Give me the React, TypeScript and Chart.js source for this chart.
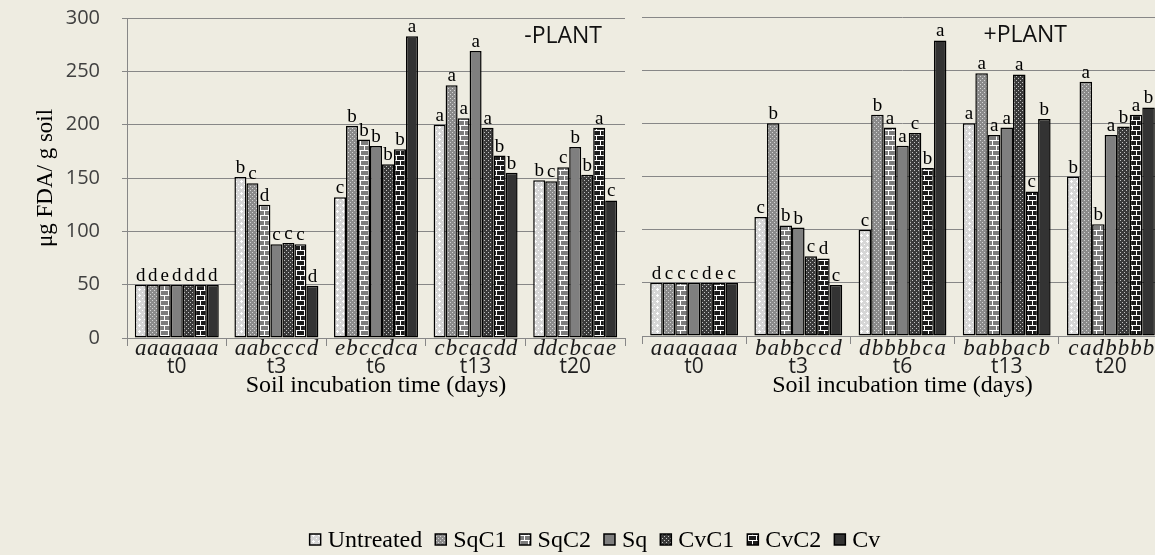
import { useEffect, useRef } from 'react';
import { Chart, registerables } from 'chart.js';

Chart.register(...registerables);

// Categories and series
const timePoints = ['t0', 't3', 't6', 't13', 't20'];
const treatments = ['Untreated', 'SqC1', 'SqC2', 'Sq', 'CvC1', 'CvC2', 'Cv'];

// FDA hydrolysis, µg FDA / g soil — unplanted soil
const minusUntreated = [50, 151, 132, 200, 148];
const minusSqC1 = [50, 145, 199, 237, 147];
const minusSqC2 = [50, 125, 186, 206, 160];
const minusSq = [50, 88, 180, 269, 179];
const minusCvC1 = [50, 89, 163, 197, 153];
const minusCvC2 = [50, 88, 177, 171, 197];
const minusCv = [50, 49, 283, 155, 129];

// FDA hydrolysis, µg FDA / g soil — planted soil
const plusUntreated = [50, 112, 100, 200, 150];
const plusSqC1 = [50, 200, 208, 247, 239];
const plusSqC2 = [50, 104, 196, 189, 105];
const plusSq = [50, 102, 179, 196, 189];
const plusCvC1 = [50, 75, 191, 246, 197];
const plusCvC2 = [50, 73, 158, 136, 208];
const plusCv = [50, 48, 278, 204, 215];

// Significance letters, one character per treatment (in treatment order)
const minusTopLetters = ['ddedddd', 'bcdcccd', 'cbbbbba', 'aaaaabb', 'bccbbac'];
const minusBaseLetters = ['aaaaaaa', 'aabcccd', 'ebccdca', 'cbcacdd', 'ddcbcae'];
const plusTopLetters = ['dcccdec', 'cbbbcdc', 'cbaacba', 'aaaaacb', 'bababab'];
const plusBaseLetters = ['aaaaaaa', 'babbccd', 'dbbbbca', 'babbacb', 'cadbbbb'];

// Axis range
const yMin = 0;
const yMax = 300;
const yStep = 50;

const BG = '#EEECE1';
const GRID = '#878787';
const SANS = '"Open Sans", "DejaVu Sans", sans-serif';
const SERIF = '"Liberation Serif", "DejaVu Serif", serif';

type Px = [number, number];

function tilePattern(w: number, h: number, base: string, ink: string, pixels: Px[]) {
  const c = document.createElement('canvas');
  c.width = w;
  c.height = h;
  const g = c.getContext('2d')!;
  g.fillStyle = base;
  g.fillRect(0, 0, w, h);
  g.fillStyle = ink;
  pixels.forEach(([x, y]) => g.fillRect(x, y, 1, 1));
  return g.createPattern(c, 'repeat')!;
}

function brickPixels(): Px[] {
  const px: Px[] = [];
  for (let x = 0; x < 8; x++) {
    px.push([x, 0]);
    px.push([x, 5]);
  }
  for (let y = 1; y < 5; y++) px.push([0, y]);
  for (let y = 6; y < 10; y++) px.push([4, y]);
  return px;
}

function makeFills() {
  const dots: Px[] = [[0, 0], [2, 2]];
  return [
    tilePattern(6, 6, '#d6d6d6', '#ffffff', [[1, 0], [0, 1], [1, 1], [2, 1], [1, 2], [4, 4]]),
    tilePattern(4, 4, '#8a8a8a', '#d4d4d4', dots),
    tilePattern(8, 10, '#7c7c7c', '#ffffff', brickPixels()),
    '#7f7f7f',
    tilePattern(4, 4, '#3a3a3a', '#c4c4c4', dots),
    tilePattern(8, 10, '#1c1c1c', '#ffffff', brickPixels()),
    '#333333',
  ];
}

function makeDatasets(series: number[][], top: string[], base: string[], fills: (string | CanvasPattern)[]) {
  return treatments.map((name, k) => ({
    label: name,
    data: series[k],
    backgroundColor: fills[k],
    borderColor: '#000000',
    borderWidth: 1.5,
    borderSkipped: false,
    categoryPercentage: 0.843,
    barPercentage: 1,
    topLetters: top.map((s) => s[k]),
    baseLetters: base.map((s) => s[k]),
  }));
}

// Letters above each bar and italic letters under the axis
const letterPlugin = {
  id: 'sigLetters',
  afterDatasetsDraw(chart: any, _args: any, opts: any) {
    const { ctx } = chart;
    ctx.save();
    ctx.textAlign = 'center';
    ctx.textBaseline = 'alphabetic';
    chart.data.datasets.forEach((ds: any, di: number) => {
      const meta = chart.getDatasetMeta(di);
      meta.data.forEach((bar: any, i: number) => {
        ctx.fillStyle = '#000000';
        ctx.font = `19px ${SERIF}`;
        ctx.fillText(ds.topLetters[i], bar.x, bar.y - 4);
        ctx.fillStyle = '#1a1a1a';
        ctx.font = `italic 23px ${SERIF}`;
        ctx.fillText(ds.baseLetters[i], bar.x, opts.baseY);
      });
    });
    ctx.restore();
  },
};

// Panel caption inside the plot area
const captionPlugin = {
  id: 'panelCaption',
  afterDraw(chart: any, _args: any, opts: any) {
    if (!opts || !opts.text) return;
    const { ctx } = chart;
    ctx.save();
    ctx.font = `23px ${SANS}`;
    ctx.fillStyle = '#111111';
    ctx.textAlign = 'right';
    ctx.textBaseline = 'alphabetic';
    ctx.fillText(opts.text, opts.x, opts.y);
    ctx.restore();
  },
};

// Shared legend row under both panels
const sharedLegendPlugin = {
  id: 'sharedLegend',
  afterDraw(chart: any, _args: any, opts: any) {
    if (!opts || !opts.display) return;
    const { ctx } = chart;
    const box = 11;
    const boxGap = 7;
    const itemGap = 13;
    ctx.save();
    ctx.font = `24px ${SERIF}`;
    const items = chart.data.datasets.map((ds: any) => ({
      text: ds.label,
      fill: ds.backgroundColor,
      w: ctx.measureText(ds.label).width,
    }));
    const total =
      items.reduce((s: number, it: any) => s + box + boxGap + it.w, 0) + itemGap * (items.length - 1);
    let x = opts.centerX - total / 2;
    const y = opts.y;
    items.forEach((it: any) => {
      ctx.fillStyle = it.fill;
      ctx.fillRect(x, y - 13, box, box);
      ctx.lineWidth = 1.5;
      ctx.strokeStyle = '#000000';
      ctx.strokeRect(x, y - 13, box, box);
      ctx.fillStyle = '#000000';
      ctx.textAlign = 'left';
      ctx.textBaseline = 'alphabetic';
      ctx.fillText(it.text, x + box + boxGap, y);
      x += box + boxGap + it.w + itemGap;
    });
    ctx.restore();
  },
};

function panelConfig(p: {
  datasets: any[];
  showAxisY: boolean;
  padding: any;
  xHeight: number;
  tickPad: number;
  caption: any;
  legend: any;
}) {
  const yScale: any = p.showAxisY
    ? {
        min: yMin,
        max: yMax,
        ticks: { stepSize: yStep, padding: 22, color: '#404040', font: { family: SANS, size: 20 } },
        grid: { color: GRID, tickLength: 5, drawTicks: true },
        border: { display: true, color: GRID },
        title: {
          display: true,
          text: 'μg FDA/ g soil',
          color: '#000000',
          font: { family: SERIF, size: 23 },
          padding: { top: 32, bottom: 0 },
        },
        afterFit: (s: any) => {
          s.width = 127;
          s.paddingTop = 0;
          s.paddingBottom = 0;
        },
      }
    : {
        min: yMin,
        max: yMax,
        ticks: { stepSize: yStep, display: false },
        grid: { color: GRID, drawTicks: false },
        border: { display: false },
        afterFit: (s: any) => {
          s.width = 0;
          s.paddingTop = 0;
          s.paddingBottom = 0;
        },
      };
  return {
    type: 'bar' as const,
    data: { labels: timePoints, datasets: p.datasets },
    plugins: [letterPlugin, captionPlugin, sharedLegendPlugin],
    options: {
      animation: false as const,
      responsive: false,
      devicePixelRatio: 1,
      layout: { padding: p.padding },
      scales: {
        x: {
          ticks: { padding: p.tickPad, color: '#1f1f1f', font: { family: SANS, size: 21 } },
          grid: {
            display: true,
            drawOnChartArea: false,
            drawTicks: true,
            tickLength: 8,
            color: GRID,
            offset: true,
          },
          border: { display: true, color: GRID },
          title: {
            display: true,
            text: 'Soil incubation time (days)',
            color: '#000000',
            font: { family: SERIF, size: 24 },
            padding: { top: 0, bottom: 30 },
          },
          afterFit: (s: any) => {
            s.height = p.xHeight;
          },
        },
        y: yScale,
      },
      plugins: {
        legend: { display: false },
        tooltip: { enabled: false },
        sigLetters: { baseY: 355 },
        panelCaption: p.caption,
        sharedLegend: p.legend,
      },
    },
  };
}

export default function App() {
  const leftRef = useRef<HTMLCanvasElement>(null);
  const rightRef = useRef<HTMLCanvasElement>(null);

  useEffect(() => {
    const fills = makeFills();
    const left = new Chart(
      leftRef.current!,
      panelConfig({
        datasets: makeDatasets(
          [minusUntreated, minusSqC1, minusSqC2, minusSq, minusCvC1, minusCvC2, minusCv],
          minusTopLetters,
          minusBaseLetters,
          fills
        ),
        showAxisY: true,
        padding: { left: 0, top: 18, right: 530, bottom: 125 },
        xHeight: 92,
        tickPad: 8,
        caption: { text: '-PLANT', x: 602, y: 43 },
        legend: { display: true, centerX: 595, y: 547 },
      }) as any
    );
    const right = new Chart(
      rightRef.current!,
      panelConfig({
        datasets: makeDatasets(
          [plusUntreated, plusSqC1, plusSqC2, plusSq, plusCvC1, plusCvC2, plusCv],
          plusTopLetters,
          plusBaseLetters,
          fills
        ),
        showAxisY: false,
        padding: { left: 10, top: 17, right: 14, bottom: 0 },
        xHeight: 94,
        tickPad: 10,
        caption: { text: '+PLANT', x: 435, y: 42 },
        legend: { display: false },
      }) as any
    );
    return () => {
      left.destroy();
      right.destroy();
    };
  }, []);

  return (
    <div
      style={{
        position: 'fixed',
        left: 0,
        top: 0,
        width: 1155,
        height: 555,
        overflow: 'hidden',
        background: BG,
      }}
    >
      <canvas
        ref={leftRef}
        width={1155}
        height={555}
        style={{ position: 'absolute', left: 0, top: 0, width: 1155, height: 555 }}
      />
      <canvas
        ref={rightRef}
        width={545}
        height={430}
        style={{ position: 'absolute', left: 632, top: 0, width: 545, height: 430 }}
      />
    </div>
  );
}
